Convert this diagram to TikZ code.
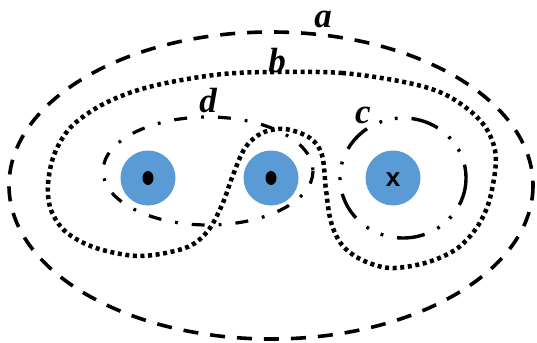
\documentclass[tikz,border=0pt]{standalone}
\usepackage{fontspec}
\setmainfont{Liberation Serif}
\newfontfamily\lsans{Liberation Sans}
\usetikzlibrary{shapes.geometric}
\definecolor{dotblue}{HTML}{5B9BD5}
\begin{document}
\begin{tikzpicture}[x=1pt,y=-1pt,
  hole/.style={circle,fill=dotblue,minimum size=55pt,inner sep=0pt},
  pin/.style={ellipse,fill=black,minimum width=11pt,minimum height=14pt,inner sep=0pt},
  loopa/.style={line width=3.6pt,dash pattern=on 15pt off 12pt},
  loopb/.style={line width=4.5pt,dash pattern=on 4pt off 3.6pt},
  loopd/.style={line width=3.2pt,dash pattern=on 13pt off 14pt on 2.8pt off 14pt},
  loopc/.style={line width=3.4pt,dash pattern=on 28pt off 14pt on 2.8pt off 13pt on 2.8pt off 14pt},
  lbl/.style={font=\fontsize{35}{35}\selectfont\bfseries\itshape,anchor=base,inner sep=0pt}]
\useasboundingbox (0,0) rectangle (537,342);
\fill[white] (0,0) rectangle (537,342);
% outer loop a
\draw[loopa] (271,185.5) ellipse [x radius=262, y radius=153.5];
% loop b
\draw[loopb] plot[smooth cycle, tension=0.55] coordinates {
 (274,72) (342,73) (404,82) (442,93) (469,110) (486,128) (495,150) (495,172)
 (488,205) (475,230) (455,250) (425,263) (390,268) (362,260) (342,245) (331,222)
 (326,190) (322,155) (310,138) (285,129) (262,133) (245,148) (233,175) (222,205)
 (207,232) (185,248) (140,256) (96,248) (66,232) (51,210) (48,185) (54,155)
 (70,128) (98,107) (132,92) (171,82) (223,74)};
% loop d
\draw[loopd] (208,171) ellipse [x radius=105, y radius=54];
% loop c
\draw[loopc] (403,178) ellipse [x radius=63, y radius=60];
% holes
\node[hole] (h1) at (148,178) {};
\node[hole] (h2) at (271,178) {};
\node[hole] (h3) at (393,178) {};
\node[pin] (p1) at (h1) {};
\node[pin] (p2) at (h2) {};
\node[font=\lsans\bfseries\fontsize{26}{26}\selectfont,inner sep=0pt] (xx) at (393,180) {x};
% labels
\node[lbl] (la) at (323,28) {a};
\node[lbl] (lb) at (277,73) {b};
\node[lbl] (ld) at (208,112) {d};
\node[lbl] (lc) at (363,123) {c};
\end{tikzpicture}
\end{document}
